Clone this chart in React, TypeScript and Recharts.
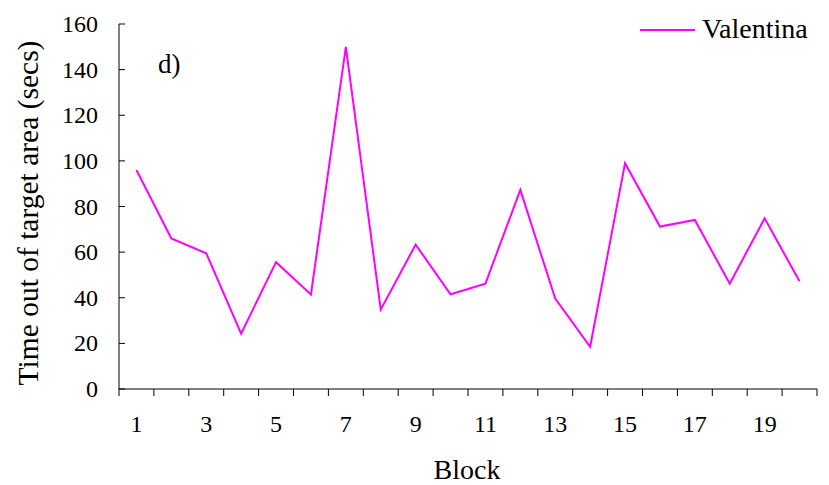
import { LineChart, Line, XAxis, YAxis } from 'recharts';

// Block numbers and time out of target area (secs)
const blocks = [1, 2, 3, 4, 5, 6, 7, 8, 9, 10, 11, 12, 13, 14, 15, 16, 17, 18, 19, 20];
const valentina = [96, 66, 59.5, 24.3, 55.6, 41.4, 150, 34.8, 63.3, 41.5, 46.2, 87.3, 39.6, 18.5, 99, 71.2, 74.1, 46.2, 74.8, 47.2];
const yTicks = [0, 20, 40, 60, 80, 100, 120, 140, 160];
const xLabels = [1, 3, 5, 7, 9, 11, 13, 15, 17, 19];

const data = blocks.map((b, i) => ({ block: b, valentina: valentina[i] }));

// tick marks sit between categories (x.5), labels only on odd blocks
const xTicks = [0.5, ...blocks.map((b) => b + 0.5), ...xLabels].sort((a, b) => a - b);

const FONT = 'Liberation Serif';
const txt = (size: number) => ({ fontFamily: FONT, fontSize: size });

function XTick({ x, y, payload }: any) {
  const v = payload.value;
  if (v % 1 !== 0) {
    return <line x1={x} y1={y} x2={x} y2={y + 7} stroke="#000" strokeWidth={1} />;
  }
  return (
    <text x={x} y={y + 43} textAnchor="middle" style={txt(24)} fill="#000">
      {v}
    </text>
  );
}

function YTick({ x, y, payload }: any) {
  return (
    <g>
      <line x1={x} y1={y} x2={x + 6} y2={y} stroke="#000" strokeWidth={1} />
      <text x={x - 21} y={y + 8} textAnchor="end" style={txt(24)} fill="#000">
        {payload.value}
      </text>
    </g>
  );
}

export default function App() {
  return (
    <div style={{ position: 'absolute', left: 0, top: 0, width: 829, height: 485, background: '#fff' }}>
      <LineChart width={829} height={485} data={data} margin={{ top: 24, right: 12, left: 59, bottom: 0 }}>
        <XAxis
          dataKey="block"
          type="number"
          domain={[0.5, 20.5]}
          ticks={xTicks}
          interval={0}
          tick={<XTick />}
          tickLine={false}
          tickSize={0}
          tickMargin={0}
          height={96}
          axisLine={{ stroke: '#000', strokeWidth: 1 }}
        />
        <YAxis
          domain={[0, 160]}
          ticks={yTicks}
          interval={0}
          tick={<YTick />}
          tickLine={false}
          tickSize={0}
          tickMargin={0}
          width={60}
          axisLine={{ stroke: '#000', strokeWidth: 1 }}
        />
        <Line
          type="linear"
          dataKey="valentina"
          stroke="#FF00FF"
          strokeWidth={2}
          dot={false}
          isAnimationActive={false}
        />
        <text x={38} y={213} transform="rotate(-90 38 213)" textAnchor="middle" style={txt(29.5)} fill="#000">
          Time out of target area (secs)
        </text>
        <text x={467} y={479} textAnchor="middle" style={txt(28)} fill="#000">
          Block
        </text>
        <text x={158} y={73} style={txt(27)} fill="#000">
          d)
        </text>
        <line x1={640} y1={30} x2={695} y2={30} stroke="#FF00FF" strokeWidth={2} />
        <text x={702} y={38} style={txt(28)} fill="#000">
          Valentina
        </text>
      </LineChart>
    </div>
  );
}
